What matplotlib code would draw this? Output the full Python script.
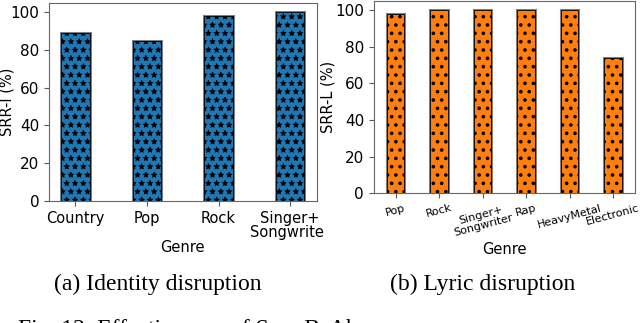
import matplotlib
matplotlib.use("Agg")
import matplotlib.pyplot as plt
from matplotlib.transforms import Bbox, TransformedBbox
import numpy as np

identity_genres = ["Country", "Pop", "Rock", "Singer+\nSongwriter"]
identity_srr = [89, 85, 98, 100]

lyric_genres = ["Pop", "Rock", "Singer+\nSongwriter", "Rap", "HeavyMetal", "Electronic"]
lyric_srr = [98, 100, 100, 100, 100, 74]

fig = plt.figure(figsize=(6.4, 3.23), dpi=100)
ax_l = fig.add_axes([0.0766, 0.378, 0.418, 0.613])
ax_r = fig.add_axes([0.584, 0.402, 0.408, 0.595])


def draw_bars(ax, labels, values, color, hatch, hatch_lw):
    x = np.arange(len(labels))
    ax.bar(x, values, width=0.4, fill=False, edgecolor="0.5", linewidth=2.2, zorder=2)
    with plt.rc_context({"hatch.linewidth": hatch_lw}):
        ax.bar(x, values, width=0.4, color=color, hatch=hatch, edgecolor="black",
               linewidth=0.6, zorder=3)
    ax.set_xticks(x)
    ax.set_ylim(0, 105)
    ax.set_yticks(range(0, 101, 20))
    ax.tick_params(axis="y", labelsize=11, color="0.35")
    ax.tick_params(axis="x", color="0.35")
    for spine in ax.spines.values():
        spine.set_color("0.4")
    return x


draw_bars(ax_l, identity_genres, identity_srr, "#1f77b4", "**", 0.45)
ax_l.set_xticklabels(identity_genres, fontsize=10.5, linespacing=0.95)
ax_l.set_ylabel("SRR-I (%)", fontsize=10.5)
ax_l.yaxis.set_label_coords(-0.13, 0.5)
ax_l.set_xlabel("Genre", fontsize=10.5)
ax_l.xaxis.set_label_coords(0.5, -0.197)

# the left subfigure is cut off at its own border
clip = TransformedBbox(Bbox([[0, 0], [0.506, 1]]), fig.transFigure)
for lab in ax_l.get_xticklabels():
    lab.set_clip_box(clip)
    lab.set_clip_on(True)

draw_bars(ax_r, lyric_genres, lyric_srr, "#ff7f0e", "..", 1.4)
ax_r.set_xlim(-0.5, 5.5)
ax_r.set_xticklabels(lyric_genres, fontsize=8, rotation=15, linespacing=0.95)
ax_r.set_ylabel("SRR-L (%)", fontsize=10.5)
ax_r.yaxis.set_label_coords(-0.145, 0.5)
ax_r.set_xlabel("Genre", fontsize=10.5)
ax_r.xaxis.set_label_coords(0.5, -0.255)

serif = ["Liberation Serif", "DejaVu Serif"]
fig.text(158 / 640, 1 - 290 / 323, "(a) Identity disruption", family=serif,
         fontsize=17, ha="center", va="baseline")
fig.text(483 / 640, 1 - 290 / 323, "(b) Lyric disruption", family=serif,
         fontsize=17, ha="center", va="baseline")
fig.text(18 / 640, 1 - 335 / 323, "Fig. 12: Effectiveness of SongBsAb", family=serif,
         fontsize=17, ha="left", va="baseline")

fig.savefig("out.png", dpi=100)
